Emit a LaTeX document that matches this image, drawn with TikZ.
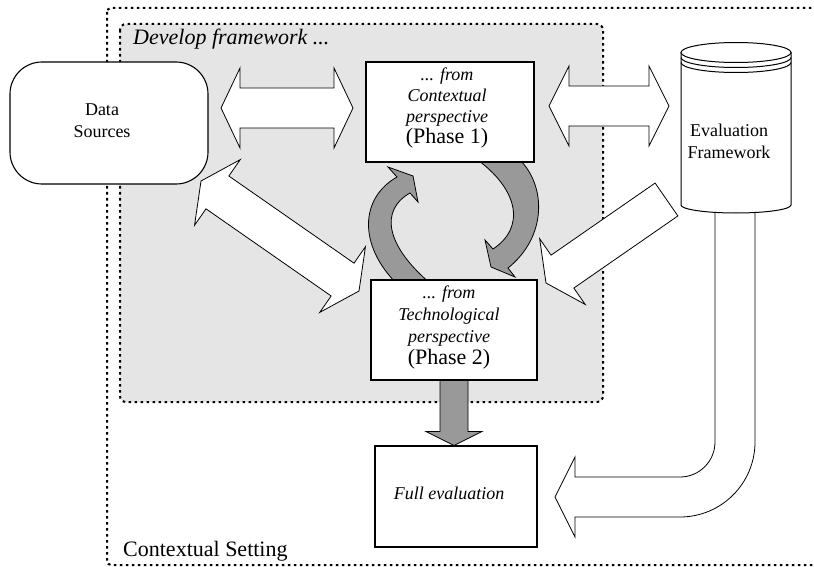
\documentclass[tikz,border=0pt]{standalone}
\usepackage{fontspec}
\setmainfont{Liberation Serif}
\usetikzlibrary{calc}

\definecolor{framegray}{RGB}{229,229,229}
\definecolor{arrowgray}{RGB}{153,153,153}

\tikzset{
  dotframe/.style={line width=2pt, dash pattern=on 2.6pt off 3.4pt},
  boxnode/.style={draw, fill=white, line width=1.1pt, inner sep=0pt},
  whitearrow/.style={draw, fill=white, line width=0.8pt, line join=miter},
  grayarrow/.style={draw, fill=arrowgray, line width=0.8pt, line join=miter},
  body/.style={font=\fontsize{18}{21}\selectfont, align=center, inner sep=0pt},
  title/.style={font=\fontsize{22}{26}\selectfont, inner sep=0pt, anchor=base west},
}

% block arrow with a head at both ends: [style]{from}{to}{half shaft}{half head}{head length}
\newcommand\dblblock[6][whitearrow]{%
  \path[#1] (#2)
    -- ($(#2)!#6!(#3)!#5!90:(#3)$) -- ($(#2)!#6!(#3)!#4!90:(#3)$)
    -- ($(#3)!#6!(#2)!#4!-90:(#2)$) -- ($(#3)!#6!(#2)!#5!-90:(#2)$)
    -- (#3)
    -- ($(#3)!#6!(#2)!#5!90:(#2)$) -- ($(#3)!#6!(#2)!#4!90:(#2)$)
    -- ($(#2)!#6!(#3)!#4!-90:(#3)$) -- ($(#2)!#6!(#3)!#5!-90:(#3)$)
    -- cycle;}

% block arrow with one head: [style]{tail}{tip}{half shaft}{half head}{head length}
\newcommand\oneblock[6][whitearrow]{%
  \path[#1] ($(#2)!#4!90:(#3)$)
    -- ($(#3)!#6!(#2)!#4!-90:(#2)$) -- ($(#3)!#6!(#2)!#5!-90:(#2)$)
    -- (#3)
    -- ($(#3)!#6!(#2)!#5!90:(#2)$) -- ($(#3)!#6!(#2)!#4!90:(#2)$)
    -- ($(#2)!#4!-90:(#3)$)
    -- cycle;}

\begin{document}
\begin{tikzpicture}[x=1pt, y=-1pt]
\useasboundingbox (0,0) rectangle (814,567);
\clip (0,0) rectangle (814,567);

% outer setting and inner framework regions
\draw[dotframe, rounded corners=4pt] (107,8) rectangle (840,565);
\draw[dotframe, fill=framegray, rounded corners=6pt] (120,24) rectangle (603,402);

% arrow end points
\coordinate (hA) at (221,108);
\coordinate (hB) at (353,108);
\coordinate (kA) at (549,106);
\coordinate (kB) at (669,106);
\coordinate (dA) at (201,181);
\coordinate (dB) at (359,291);
\coordinate (sT) at (666.5,199.5);
\coordinate (sB) at (546,283);

% white block arrows
\dblblock{hA}{hB}{20pt}{40pt}{19pt}
\dblblock{kA}{kB}{20pt}{40pt}{20pt}
\dblblock{dA}{dB}{20pt}{40pt}{20pt}
\oneblock{sT}{sB}{20pt}{40pt}{20pt}

% bent arrow from the evaluation framework down to the full evaluation
\path[whitearrow] (715,208) -- (715,442)
  .. controls (715,461.3) and (699.3,477) .. (680,477)
  -- (575,477) -- (575,457) -- (555,497) -- (575,537) -- (575,517) -- (680,517)
  .. controls (721.4,517) and (755,483.4) .. (755,442)
  -- (755,208) -- cycle;

% grey curved arrows between the two phases
\path[grayarrow] (397,284) .. controls (358,245) and (360,198) .. (397,177)
  -- (388,167) -- (413,176) -- (418,202) -- (410,193)
  .. controls (380,210) and (385,245) .. (431,284) -- cycle;
\path[grayarrow] (518,158) .. controls (547,185) and (547,237) .. (508,268)
  -- (515,277) -- (491,267) -- (485,240) -- (493,249)
  .. controls (525,228) and (520,190) .. (475,158) -- cycle;

% boxes
\node[boxnode, rounded corners=32pt, minimum width=198pt, minimum height=122pt] (ds) at (109,123) {};
\node[boxnode, minimum width=168pt, minimum height=100pt] (p1) at (450,112) {};
\node[boxnode, minimum width=166pt, minimum height=100pt] (p2) at (454,330) {};
\node[boxnode, minimum width=162pt, minimum height=101pt] (fe) at (456,496.5) {};

% grey arrow from phase 2 to the full evaluation
\oneblock[grayarrow]{p2.south}{p2.south |- fe.north}{14pt}{28pt}{14pt}

% evaluation framework store
\path[draw, fill=white, line width=1pt] (681,52.5) -- (681,205)
  .. controls (681,209.4) and (705.6,213) .. (736,213)
  .. controls (766.4,213) and (791,209.4) .. (791,205)
  -- (791,52.5) -- cycle;
\draw[fill=white, line width=1pt] (736,52.5) ellipse [x radius=55, y radius=10];
\draw[line width=1pt] (681,57.5) .. controls (681,63) and (705.6,67.5) .. (736,67.5)
  .. controls (766.4,67.5) and (791,63) .. (791,57.5);
\draw[line width=1pt] (681,62.5) .. controls (681,68) and (705.6,72.5) .. (736,72.5)
  .. controls (766.4,72.5) and (791,68) .. (791,62.5);

% texts
\node[body, font=\fontsize{18}{22}\selectfont] (dstxt) at (102,121) {Data\\Sources};
\node[body] (p1txt) at (447,108)
  {\textit{... from}\\\textit{Contextual}\\\textit{perspective}\\{\fontsize{22}{21}\selectfont (Phase 1)}};
\node[body, font=\fontsize{18}{22}\selectfont] (p2txt) at (449,328)
  {\textit{... from}\\\textit{Technological}\\\textit{perspective}\\{\fontsize{22}{22}\selectfont (Phase 2)}};
\node[body] (fetxt) at (449,493) {\textit{Full evaluation}};
\node[body, font=\fontsize{18}{22}\selectfont] (eftxt) at (729,141) {Evaluation\\Framework};
\node[title] (dev) at (133,45) {\textit{Develop framework ...}};
\node[title] (ctx) at (123,556) {Contextual Setting};
\end{tikzpicture}
\end{document}
